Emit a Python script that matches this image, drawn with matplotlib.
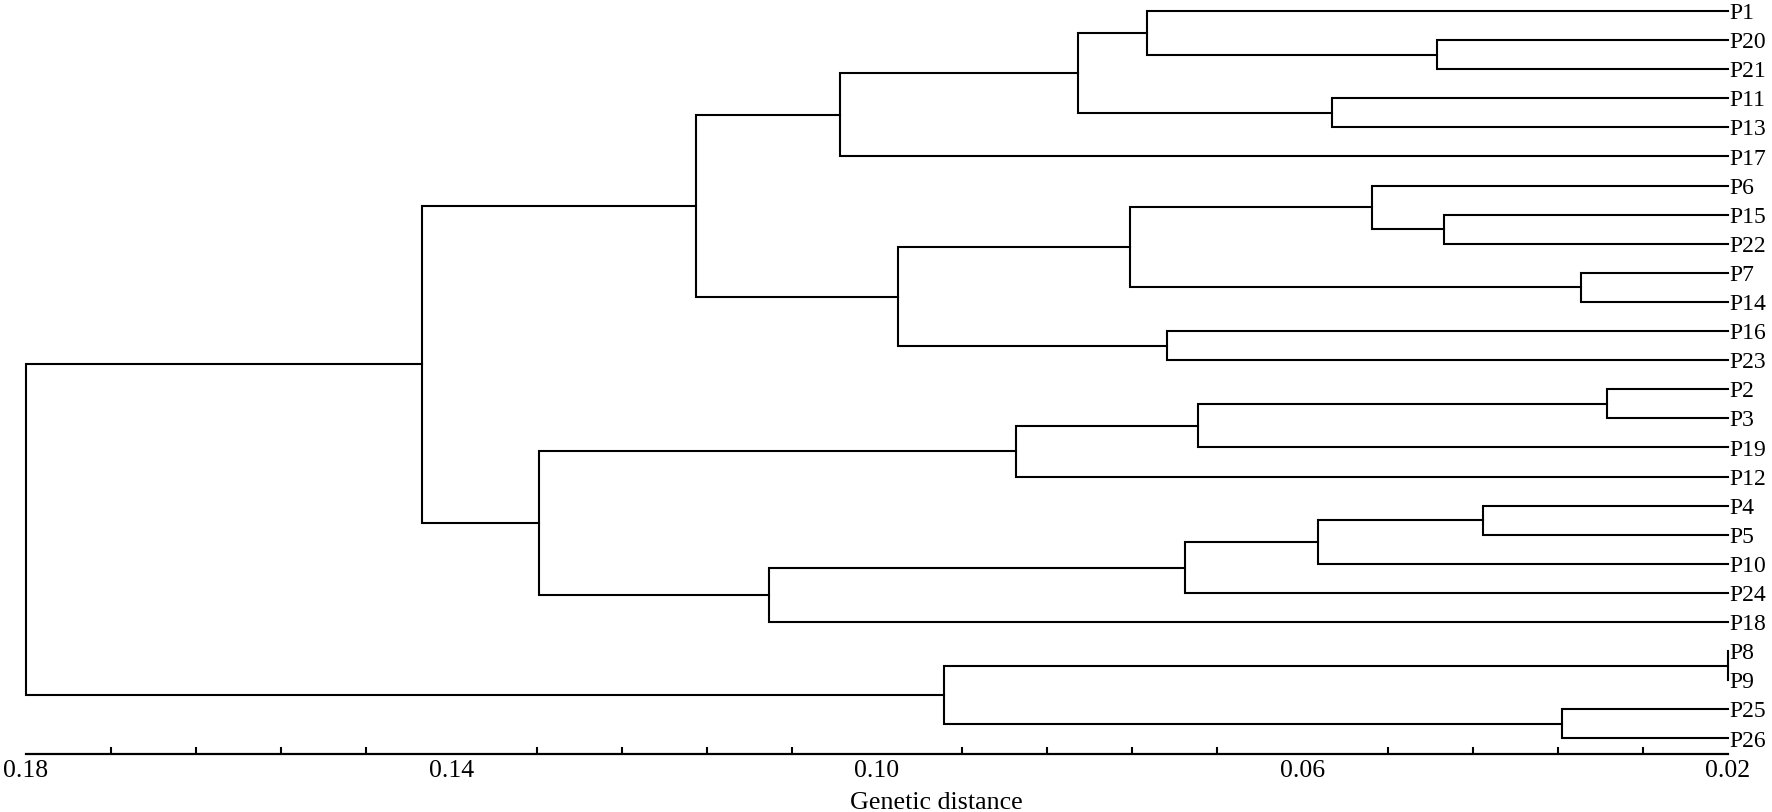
import matplotlib
matplotlib.use("Agg")
import matplotlib.pyplot as plt
from matplotlib.ticker import FixedLocator, NullFormatter
import numpy as np

plt.rcParams['font.family'] = ['Liberation Serif', 'DejaVu Serif']

# ---- data -------------------------------------------------------------
leaf_order = ["P1", "P20", "P21", "P11", "P13", "P17", "P6", "P15", "P22",
              "P7", "P14", "P16", "P23", "P2", "P3", "P19", "P12", "P4",
              "P5", "P10", "P24", "P18", "P8", "P9", "P25", "P26"]

node_names = ["n20_21", "nA", "n11_13", "nB", "nC", "n15_22", "nD", "n7_14",
              "nE", "n16_23", "nF", "nG", "n2_3", "nH", "nI", "n4_5", "nJ",
              "nK", "nL", "nM", "nN", "n8_9", "n25_26", "nO", "root"]
node_left = ["P20", "P1", "P11", "nA", "nB", "P15", "P6", "P7",
             "nD", "P16", "nE", "nC", "P2", "n2_3", "nH", "P4", "n4_5",
             "nJ", "nK", "nI", "nG", "P8", "P25", "n8_9", "nN"]
node_right = ["P21", "n20_21", "P13", "n11_13", "P17", "P22", "n15_22", "P14",
              "n7_14", "P23", "n16_23", "nF", "P3", "P19", "P12", "P5", "P10",
              "P24", "P18", "nL", "nM", "P9", "P26", "n25_26", "nO"]
node_height = [0.0474, 0.0746, 0.0572, 0.0811, 0.1035, 0.0467, 0.0535, 0.0338,
               0.0762, 0.0727, 0.0980, 0.1170, 0.0314, 0.0698, 0.0869, 0.0430,
               0.0585, 0.0710, 0.1102, 0.1318, 0.1428, 0.0200, 0.0356, 0.0937,
               0.1800]

major_ticks = [0.18, 0.14, 0.10, 0.06, 0.02]
major_labels = ["0.18", "0.14", "0.10", "0.06", "0.02"]
minor_step = 0.008
x_min, x_max = 0.02, 0.18
xlabel = "Genetic distance"

# ---- figure -------------------------------------------------------------
W, H = 1772, 812
fig = plt.figure(figsize=(W / 100 + 0.0001, H / 100 + 0.0001), dpi=100)
ax = fig.add_axes([26 / W, 58 / H, 1702 / W, 754 / H])

leaf_y0_px, leaf_dy_px = 11.0, 29.1
ax.set_ylim((754 - leaf_y0_px) / leaf_dy_px, -leaf_y0_px / leaf_dy_px)
ax.set_xlim(x_max, x_min)

pos = {}
for i, name in enumerate(leaf_order):
    pos[name] = (x_min, float(i))

lw = 1.5
for name, l, r, h in zip(node_names, node_left, node_right, node_height):
    xl, yl = pos[l]
    xr, yr = pos[r]
    ax.plot([xl, h, h, xr], [yl, yl, yr, yr], color="black", lw=lw,
            solid_joinstyle="miter", solid_capstyle="projecting", clip_on=False)
    pos[name] = (h, (yl + yr) / 2.0)

for i, name in enumerate(leaf_order):
    ax.annotate(name, xy=(x_min, i), xytext=(1.2, 0), textcoords="offset points",
                ha="left", va="center_baseline", fontsize=17, color="black",
                annotation_clip=False)

for s in ["top", "right", "left"]:
    ax.spines[s].set_visible(False)
ax.spines["bottom"].set_linewidth(1.6)
ax.set_yticks([])

ax.xaxis.set_major_locator(FixedLocator(major_ticks))
ax.set_xticklabels(major_labels)
minor = [v for v in np.arange(x_min, x_max + 1e-9, minor_step)
         if all(abs(v - m) > 1e-6 for m in major_ticks)]
ax.xaxis.set_minor_locator(FixedLocator(minor))
ax.xaxis.set_minor_formatter(NullFormatter())
ax.tick_params(axis="x", which="major", length=0, pad=4.5, labelsize=18.5)
ax.tick_params(axis="x", which="minor", direction="in", length=4.8, width=1.5)

fig.text(936 / W, 3.5 / H, xlabel, ha="center", va="baseline", fontsize=18.7)

fig.savefig("out.png", dpi=100)
